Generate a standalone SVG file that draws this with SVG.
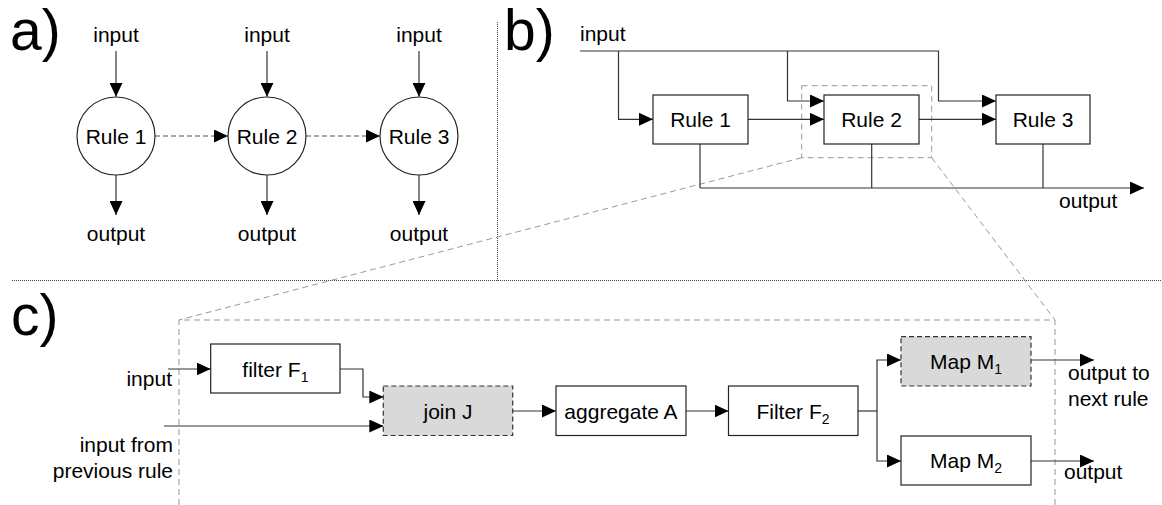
<svg xmlns="http://www.w3.org/2000/svg" width="1162" height="505" viewBox="0 0 1162 505">
<defs>
<style>
text{font-family:"Liberation Sans",Arial,Helvetica,sans-serif;font-size:21px;fill:#000}
.lbl{font-size:57px}
.mid{text-anchor:middle}
.end{text-anchor:end}
.sub{font-size:14px}
.box{fill:#fff;stroke:#222;stroke-width:1.2}
.gbox{fill:#d9d9d9;stroke:#333;stroke-width:1.2;stroke-dasharray:5 3}
.circ{fill:#fff;stroke:#222;stroke-width:1.2}
.ln{fill:none;stroke:#333;stroke-width:1.2}
.arr{marker-end:url(#ah)}
.dash{fill:none;stroke:#555;stroke-width:1.2;stroke-dasharray:5 3}
.zoom{fill:none;stroke:#999;stroke-width:1;stroke-dasharray:6 4}
.div{fill:none;stroke:#444;stroke-width:1;stroke-dasharray:1 1}
</style>
<marker id="ah" markerUnits="userSpaceOnUse" markerWidth="14" markerHeight="13" refX="14" refY="6.5" orient="auto">
<path d="M0,0 L14,6.5 L0,13 z" fill="#000"/>
</marker>
</defs>

<g id="dividers">
<line class="div" x1="497.5" y1="22" x2="497.5" y2="280.5"/>
<line class="div" x1="12" y1="280.5" x2="1162" y2="280.5"/>
</g>

<g id="labels">
<text class="lbl" x="10" y="50">a)</text>
<text class="lbl" x="504" y="50">b)</text>
<text class="lbl" x="11" y="335">c)</text>
</g>

<!-- zoom guides -->
<g id="zoom-guides">
<rect class="zoom" x="801.7" y="85.7" width="130" height="72"/>
<line class="zoom" x1="801.7" y1="157.7" x2="179" y2="320"/>
<line class="zoom" x1="931.7" y1="157.7" x2="1055" y2="320"/>
<path class="zoom" d="M179,505 V320 H1055 V505"/>
</g>

<!-- panel a connectors -->
<g id="connectors-a">
<line class="ln arr" x1="116" y1="51" x2="116" y2="96.8"/>
<line class="ln arr" x1="267" y1="51" x2="267" y2="96.8"/>
<line class="ln arr" x1="419" y1="51" x2="419" y2="96.8"/>
<line class="ln arr" x1="116" y1="175" x2="116" y2="215"/>
<line class="ln arr" x1="267" y1="175" x2="267" y2="215"/>
<line class="ln arr" x1="419" y1="175" x2="419" y2="215"/>
<line class="dash arr" x1="155" y1="136" x2="228" y2="136"/>
<line class="dash arr" x1="306" y1="136" x2="380" y2="136"/>
</g>

<g id="a-rule1"><circle class="circ" cx="116" cy="136" r="39"/><text class="mid" x="116" y="143.5">Rule 1</text></g>
<g id="a-rule2"><circle class="circ" cx="267" cy="136" r="39"/><text class="mid" x="267" y="143.5">Rule 2</text></g>
<g id="a-rule3"><circle class="circ" cx="419" cy="136" r="39"/><text class="mid" x="419" y="143.5">Rule 3</text></g>
<g id="a-texts">
<text class="mid" x="116" y="42">input</text>
<text class="mid" x="267" y="42">input</text>
<text class="mid" x="419" y="42">input</text>
<text class="mid" x="116" y="241">output</text>
<text class="mid" x="267" y="241">output</text>
<text class="mid" x="419" y="241">output</text>
</g>

<!-- panel b connectors -->
<g id="connectors-b">
<path class="ln arr" d="M580,51 H938.5 V101 H996"/>
<path class="ln arr" d="M618.5,51 V119.3 H653"/>
<path class="ln arr" d="M787.5,51 V101 H824"/>
<line class="ln arr" x1="748" y1="119.3" x2="824" y2="119.3"/>
<line class="ln arr" x1="919" y1="119.3" x2="996" y2="119.3"/>
<line class="ln" x1="700" y1="144" x2="700" y2="188"/>
<line class="ln" x1="871.7" y1="144" x2="871.7" y2="188"/>
<line class="ln" x1="1043" y1="144" x2="1043" y2="188"/>
<line class="ln arr" x1="700" y1="188" x2="1144" y2="188"/>
</g>
<g id="b-rule1"><rect class="box" x="653" y="95" width="95" height="49"/><text class="mid" x="700.5" y="126.5">Rule 1</text></g>
<g id="b-rule2"><rect class="box" x="824" y="95" width="95" height="49"/><text class="mid" x="871.5" y="126.5">Rule 2</text></g>
<g id="b-rule3"><rect class="box" x="996" y="95" width="94" height="49"/><text class="mid" x="1043" y="126.5">Rule 3</text></g>
<g id="b-texts">
<text x="580" y="41">input</text>
<text x="1059" y="208">output</text>
</g>

<!-- panel c connectors -->
<g id="connectors-c">
<line class="ln arr" x1="168" y1="369" x2="210.7" y2="369"/>
<path class="ln arr" d="M340,369 H363 V397 H383.3"/>
<line class="ln arr" x1="164" y1="426" x2="383.3" y2="426"/>
<line class="ln arr" x1="512.7" y1="411" x2="556" y2="411"/>
<line class="ln arr" x1="686" y1="411" x2="728.5" y2="411"/>
<line class="ln" x1="858" y1="411" x2="877" y2="411"/>
<path class="ln arr" d="M877,411 V360 H901"/>
<path class="ln arr" d="M877,411 V461 H901"/>
<line class="ln arr" x1="1031" y1="360" x2="1094" y2="360"/>
<line class="ln arr" x1="1031" y1="461" x2="1094" y2="461"/>
</g>

<g id="c-filterF1"><rect class="box" x="210.7" y="344" width="129.3" height="49"/><text class="mid" x="275.4" y="376.5">filter F<tspan class="sub" dy="5">1</tspan></text></g>
<g id="c-joinJ"><rect class="gbox" x="383.3" y="386" width="129.4" height="49.5"/><text class="mid" x="448" y="418.5">join J</text></g>
<g id="c-aggregateA"><rect class="box" x="556" y="386" width="130" height="49.5"/><text class="mid" x="621" y="418.5">aggregate A</text></g>
<g id="c-filterF2"><rect class="box" x="728.5" y="386" width="129.5" height="49.5"/><text class="mid" x="793" y="418.5">Filter F<tspan class="sub" dy="5">2</tspan></text></g>
<g id="c-mapM1"><rect class="gbox" x="901" y="336.7" width="130" height="49.3"/><text class="mid" x="966" y="369">Map M<tspan class="sub" dy="5">1</tspan></text></g>
<g id="c-mapM2"><rect class="box" x="901" y="436" width="130" height="49"/><text class="mid" x="966" y="468">Map M<tspan class="sub" dy="5">2</tspan></text></g>
<g id="c-texts">
<text class="end" x="172" y="386">input</text>
<text class="end" x="173" y="452">input from</text>
<text class="end" x="173" y="477.5">previous rule</text>
<text x="1068" y="380">output to</text>
<text x="1068" y="405.5">next rule</text>
<text x="1064" y="479">output</text>
</g>
</svg>
